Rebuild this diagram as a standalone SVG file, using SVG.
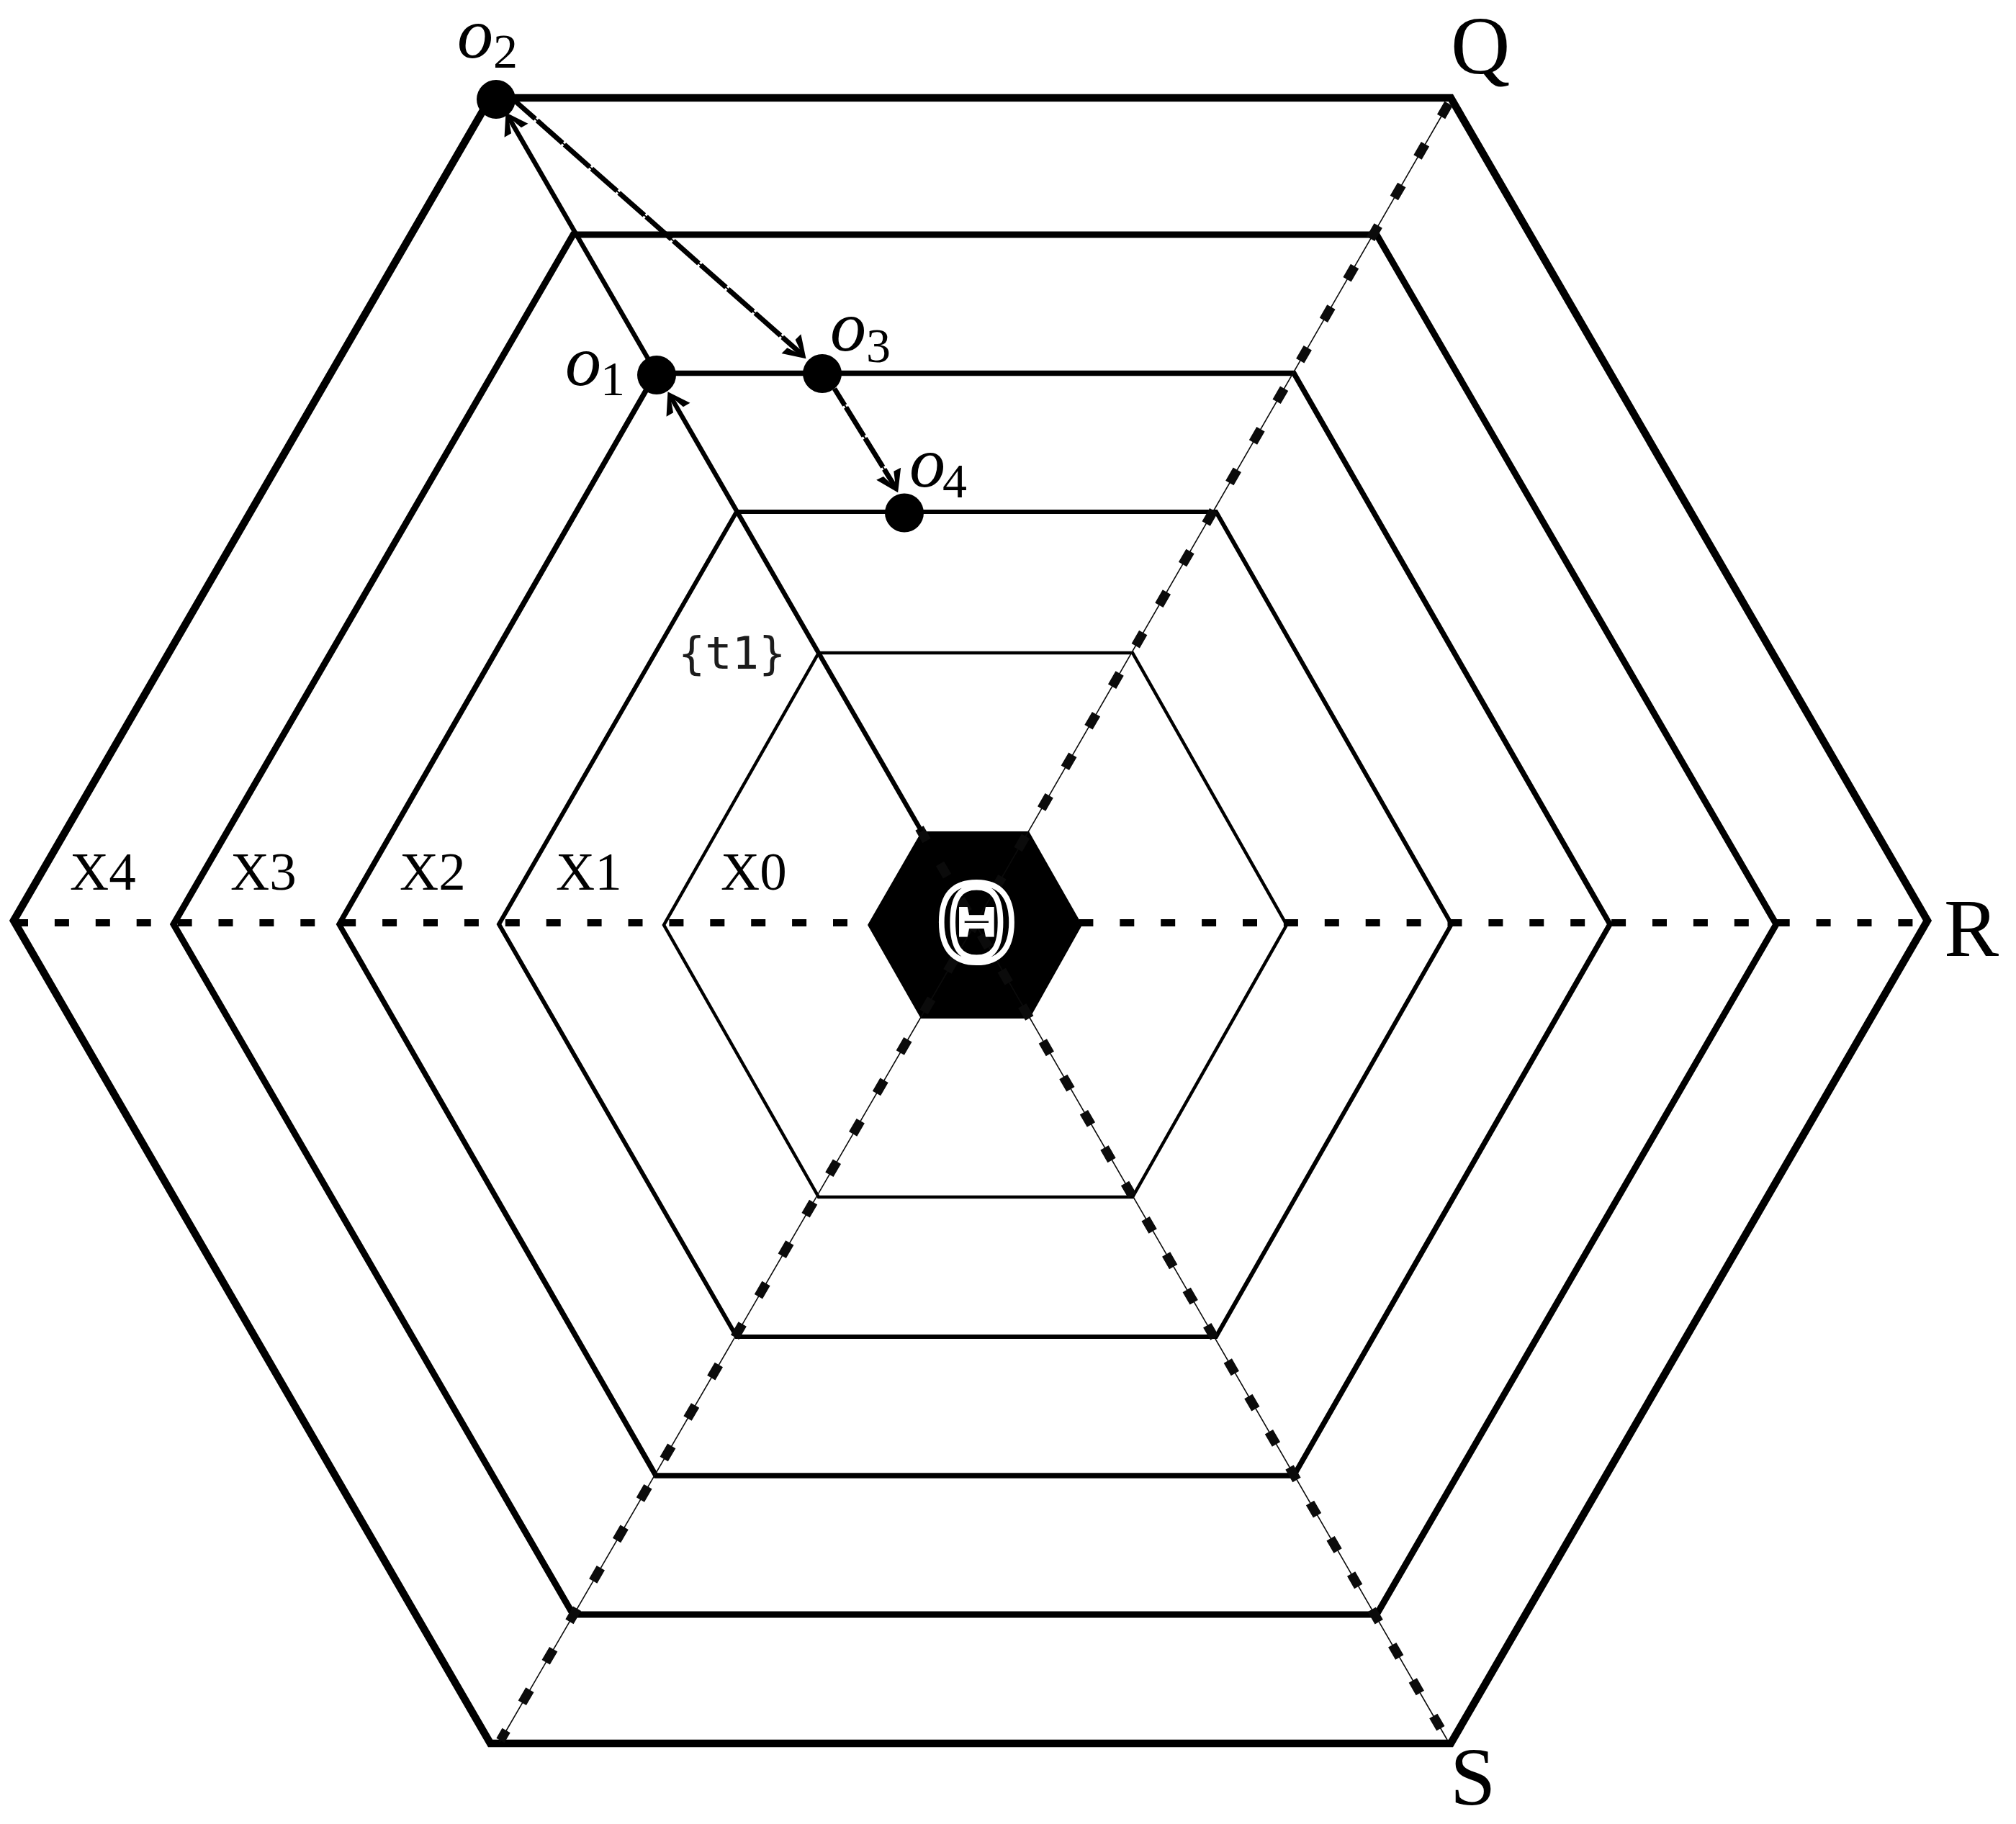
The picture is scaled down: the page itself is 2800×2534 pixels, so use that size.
<svg xmlns="http://www.w3.org/2000/svg" width="2800" height="2534" viewBox="0 0 2800 2534">
<style>
.hex{fill:none;stroke:#000;stroke-linejoin:miter}
.thin{fill:none;stroke:#0b0b0b;stroke-width:1.6}
.blk{fill:none;stroke:#0b0b0b;stroke-width:13}
.ser{font-family:"Liberation Serif","Times New Roman",serif;fill:#000}
.mi{font-family:"Liberation Serif","Times New Roman",serif;font-style:italic;font-size:100px;fill:#000}
.sub{font-family:"Liberation Serif","Times New Roman",serif;font-size:68px;fill:#000}
.x{font-size:75px}
.cor{font-size:114px}
.arr{fill:none;stroke:#000;stroke-width:6.5;marker-end:url(#ah)}
.dsh{fill:none;stroke:#000;stroke-width:7}
.dt{fill:none;stroke:#000;stroke-width:2}
</style>
<defs>
<marker id="ah" markerUnits="userSpaceOnUse" viewBox="-30 -22 42 44" markerWidth="42" markerHeight="44" refX="0" refY="0" orient="auto">
<path d="M9,0 L-20,-19 L-20,-8 L-6,-3 L-6,3 L-20,8 L-20,19 Z" fill="#000"/>
</marker>
</defs>
<rect width="2800" height="2534" fill="#fff"/>
<g id="hex4"><polygon class="hex" stroke-width="10.5" points="19,1279 681,136 2015,136 2677,1279 2015,2422 681,2422"/></g>
<g id="hex3"><polygon class="hex" stroke-width="9" points="241,1284 796,326 1912,326 2467,1284 1912,2243 796,2243"/></g>
<g id="hex2"><polygon class="hex" stroke-width="7.5" points="471,1284 911,518.5 1797,518.5 2236,1284 1797,2050 911,2050"/></g>
<g id="hex1"><polygon class="hex" stroke-width="6" points="693,1284 1023,711 1689,711 2016,1284 1689,1857 1023,1857"/></g>
<g id="hex0"><polygon class="hex" stroke-width="4.5" points="922,1285 1137,907 1573,907 1787,1285 1573,1663 1137,1663"/></g>
<g id="center">
<path d="M19,1282H2657" fill="none" stroke="#000" stroke-width="10" stroke-dasharray="20 36.9"/>
<polygon fill="#000" points="1205,1285 1280,1155 1429,1155 1503,1285 1430,1415 1279,1415"/>
</g>
<g id="connectors">
<path class="thin" d="M1354,1284L2012,144"/>
<path class="blk" d="M1354,1284L2012,144" stroke-dasharray="21 44.3" stroke-dashoffset="10.5"/>
<path class="thin" d="M1354,1284L694,2420"/>
<path class="blk" d="M1354,1284L695,2418" stroke-dasharray="21 44.3" stroke-dashoffset="10.5"/>
<path class="thin" d="M1355,1284L2010,2417"/>
<path class="blk" d="M1277,1150.6L2010,2417" stroke-dasharray="20 37"/>
<path class="arr" d="M1280,1155L932,552"/>
<path class="arr" d="M912,519L707,164"/>
<path class="dt" d="M715,140L1113,491.7"/>
<path class="dsh" d="M715,140L1113,491.7" stroke-dasharray="47 3.5" stroke-dashoffset="9"/>
<path class="dsh" d="M1113,491.7L1113.1,491.8" style="marker-end:url(#ah)"/>
<path class="dt" d="M1159,540L1243,676"/>
<path class="dsh" d="M1159,540L1243,676" stroke-dasharray="47 3.5" stroke-dashoffset="20"/>
<path class="dsh" d="M1243,676L1243.1,676.2" style="marker-end:url(#ah)"/>
</g>
<g id="theta"><text class="ser" transform="translate(1356.5 1335) scale(0.95 1.03)" text-anchor="middle" font-size="160" stroke="#fff" stroke-width="8">Θ</text></g>
<g id="o1"><circle cx="912" cy="521" r="27" fill="#000"/><text class="mi" x="785" y="535">o</text><text class="sub" x="834" y="549">1</text></g>
<g id="o2"><circle cx="689" cy="138" r="27" fill="#000"/><text class="mi" x="635" y="80">o</text><text class="sub" x="685" y="94">2</text></g>
<g id="o3"><circle cx="1142" cy="519" r="27" fill="#000"/><text class="mi" x="1153" y="487">o</text><text class="sub" x="1203" y="503">3</text></g>
<g id="o4"><circle cx="1256" cy="712.5" r="27" fill="#000"/><text class="mi" x="1263" y="676">o</text><text class="sub" x="1309" y="691">4</text></g>
<g id="labels">
<text class="ser x" x="97" y="1236">X4</text>
<text class="ser x" x="320" y="1236">X3</text>
<text class="ser x" x="555" y="1236">X2</text>
<text class="ser x" x="772" y="1236">X1</text>
<text class="ser x" x="1001" y="1236">X0</text>
<text x="942" y="929" font-family="'DejaVu Sans Mono',monospace" font-size="62" fill="#1c1c1c">{t1}</text>
<text class="ser cor" x="2015" y="102">Q</text>
<text class="ser cor" x="2700" y="1328">R</text>
<text class="ser cor" x="2014" y="2507">S</text>
</g>
</svg>
